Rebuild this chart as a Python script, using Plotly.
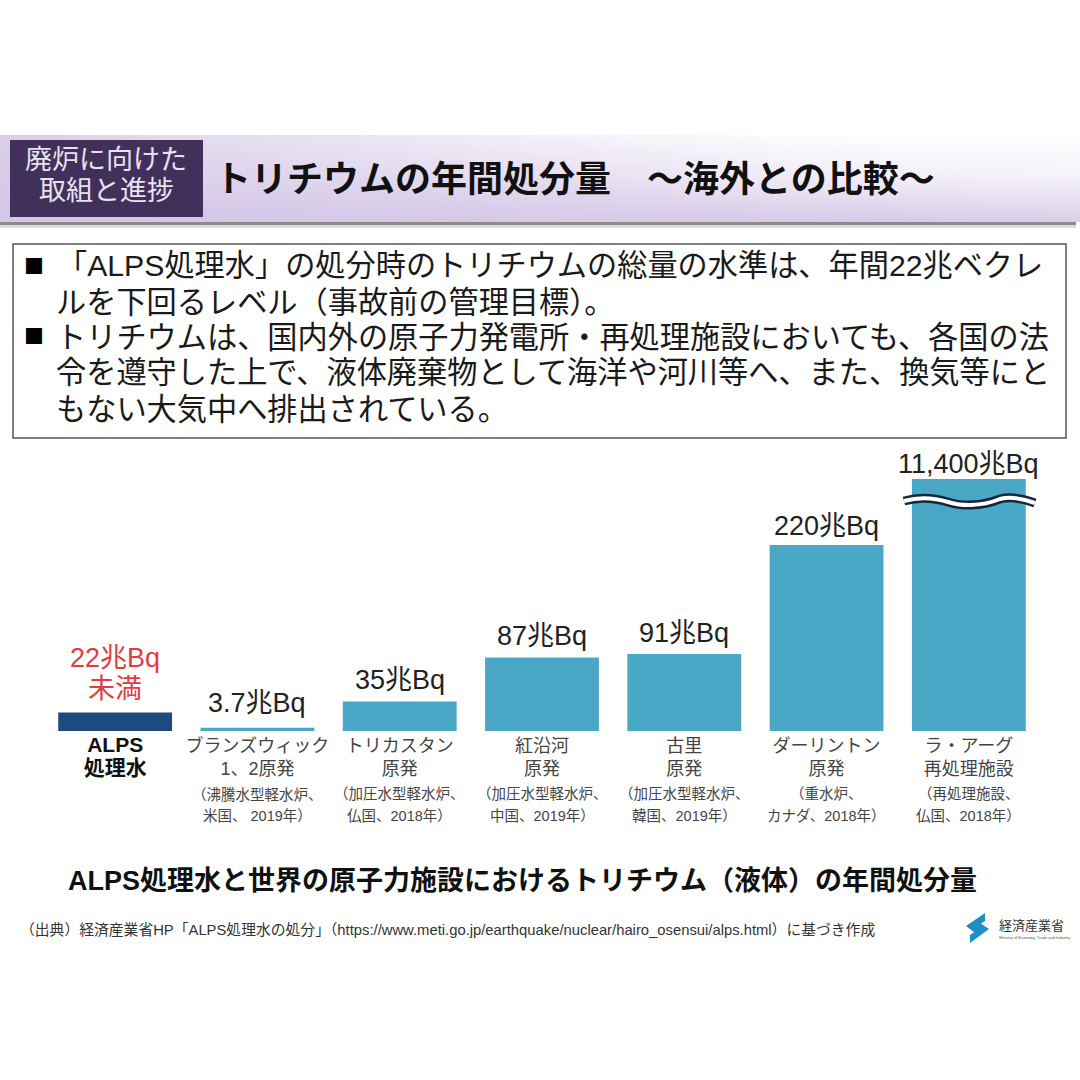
import plotly.graph_objects as go

# 兆Bq per year
plants = ["ALPS", "Brunswick", "Tricastin", "Hongyanhe", "Kori", "Darlington", "La Hague"]
values = [22, 3.7, 35, 87, 91, 220, 11400]
value_labels = ["22兆Bq", "3.7兆Bq", "35兆Bq", "87兆Bq", "91兆Bq", "220兆Bq", "11,400兆Bq"]
tick_labels = [
    '<span style="color:#111111;font-size:21px"><b>ALPS<br>処理水</b></span>',
    "ブランズウィック<br>1、2原発",
    "トリカスタン<br>原発",
    "紅沿河<br>原発",
    "古里<br>原発",
    "ダーリントン<br>原発",
    "ラ・アーグ<br>再処理施設",
]
reactor_notes = ["", "（沸騰水型軽水炉、", "（加圧水型軽水炉、", "（加圧水型軽水炉、", "（加圧水型軽水炉、", "（重水炉、", "（再処理施設、"]
country_notes = ["", "米国、 2019年）", "仏国、2018年）", "中国、2019年）", "韓国、2019年）", "カナダ、2018年）", "仏国、2018年）"]
bar_colors = ["#1f4a80", "#4aa8c6", "#4aa8c6", "#4aa8c6", "#4aa8c6", "#4aa8c6", "#4aa8c6"]

body_lines = [
    "「ALPS処理水」の処分時のトリチウムの総量の水準は、年間22兆ベクレ",
    "ルを下回るレベル（事故前の管理目標）。",
    "トリチウムは、国内外の原子力発電所・再処理施設においても、各国の法",
    "令を遵守した上で、液体廃棄物として海洋や河川等へ、また、換気等にと",
    "もない大気中へ排出されている。",
]
header_shade = [
    [1.00, 1.00, 0.95, 0.95, 0.85],
    [0.92, 0.75, 0.60, 0.35, 0.25],
    [0.85, 0.55, 0.25, 0.05, 0.00],
]

FONT = "Liberation Sans, Noto Sans CJK JP, sans-serif"
SIZE = 1080
Y_TOP = 298  # the last bar is cut off here, hence the wave mark


def px(x):
    return x / SIZE


def py(y):
    return 1 - y / SIZE


def note(x, y, text, size, color="#222222", anchor="left", bold=False):
    return dict(
        x=px(x), y=py(y), xref="paper", yref="paper", text=f"<b>{text}</b>" if bold else text,
        showarrow=False, xanchor=anchor, yanchor="middle",
        font=dict(family=FONT, size=size, color=color),
    )


def box(x0, y0, x1, y1, fill, line=None, width=0):
    return dict(
        type="rect", xref="paper", yref="paper", x0=px(x0), y0=py(y0), x1=px(x1), y1=py(y1),
        fillcolor=fill, line=dict(color=line, width=width) if line else dict(width=0), layer="above",
    )


def wave(color, width):
    pts = [(904, 501), (918, 497), (932, 497), (948, 502), (960, 506), (980, 507), (1000, 499), (1012, 496), (1024, 499), (1035, 503)]
    s = [f"{px(a):.5f},{py(b):.5f}" for a, b in pts]
    path = f"M{s[0]} C{s[1]} {s[2]} {s[3]} C{s[4]} {s[5]} {s[6]} C{s[7]} {s[8]} {s[9]}"
    return dict(type="path", xref="paper", yref="paper", path=path, line=dict(color=color, width=width), layer="above")


def poly(points, color):
    s = " L".join(f"{px(a):.5f},{py(b):.5f}" for a, b in points)
    return dict(type="path", xref="paper", yref="paper", path=f"M{s} Z", fillcolor=color, line=dict(width=0), layer="above")


fig = go.Figure()
fig.add_trace(go.Heatmap(
    z=header_shade, xaxis="x2", yaxis="y2", zsmooth="best", showscale=False, hoverinfo="skip",
    zmin=0, zmax=1, colorscale=[[0, "#ffffff"], [1, "#d3c6e6"]],
))
fig.add_trace(go.Bar(x=plants, y=values, marker=dict(color=bar_colors, line=dict(width=0)), hoverinfo="skip"))

annotations = []
for i, (name, val, label) in enumerate(zip(plants, values, value_labels)):
    red = i == 0
    lift = {0: 37, 1: 8, 5: 2, 6: -2}.get(i, 4)
    annotations.append(dict(
        x=name, y=min(val, Y_TOP), xref="x", yref="y", text=label, showarrow=False, yanchor="bottom",
        yshift=lift, font=dict(family=FONT, size=27, color="#e23b40" if red else "#222222"),
    ))
    if red:
        annotations.append(dict(
            x=name, y=val, xref="x", yref="y", text="未満", showarrow=False, yanchor="bottom",
            yshift=6, font=dict(family=FONT, size=27, color="#e23b40"),
        ))
    annotations.append(dict(x=name, y=py(794), xref="x", yref="paper", text=reactor_notes[i], showarrow=False,
                            yanchor="middle", font=dict(family=FONT, size=14.5, color="#444444")))
    annotations.append(dict(x=name, y=py(816), xref="x", yref="paper", text=country_notes[i], showarrow=False,
                            yanchor="middle", font=dict(family=FONT, size=14.5, color="#444444")))

annotations += [
    note(106, 160, "廃炉に向けた", 27, "#e8e2f0", "center"),
    note(106, 191, "取組と進捗", 27, "#e8e2f0", "center"),
    note(213, 179, "トリチウムの年間処分量　～海外との比較～", 36, "#111111", bold=True),
    note(22, 264, "■", 33, "#000000"),
    note(22, 335, "■", 33, "#000000"),
    note(522, 881, "ALPS処理水と世界の原子力施設におけるトリチウム（液体）の年間処分量", 27, "#111111", "center", True),
    note(18, 930, "（出典）経済産業省HP「ALPS処理水の処分」（https://www.meti.go.jp/earthquake/nuclear/hairo_osensui/alps.html）に基づき作成", 14.8, "#333333"),
    note(997, 925, "経済産業省", 13, "#333333"),
    note(997, 937, "Ministry of Economy, Trade and Industry", 4, "#555555"),
]
for text, x, y in zip(body_lines, [55, 54, 54, 54, 54], [266, 302, 337, 373, 409]):
    annotations.append(note(x, y, text, 30.2, "#1a1a1a"))

shapes = [
    box(0, 222, 1076, 225, "#8b8b8b"),
    box(0, 225, 1076, 228, "#dcdcdc"),
    box(10, 140, 203, 217, "#41305a"),
    box(13, 244, 1066, 438, "rgba(0,0,0,0)", "#555555", 1.5),
    wave("#14283c", 9),
    wave("#ffffff", 4),
    poly([(966, 926), (985, 913), (985, 921), (976, 927), (984, 931), (975, 933)], "#1d8fc4"),
    poly([(989, 929), (970, 943), (970, 935), (979, 929), (972, 925), (980, 923)], "#1d8fc4"),
]

fig.update_layout(
    width=SIZE, height=SIZE, margin=dict(l=0, r=0, t=0, b=0), showlegend=False,
    paper_bgcolor="#ffffff", plot_bgcolor="rgba(0,0,0,0)", bargap=0.2,
    font=dict(family=FONT), annotations=annotations, shapes=shapes,
    xaxis=dict(
        domain=[px(44), px(1040)], range=[-0.5, 6.5], tickmode="array", tickvals=plants, ticktext=tick_labels,
        ticks="", showgrid=False, zeroline=False, showline=False, anchor="y", ticklabelstandoff=2,
        tickfont=dict(family=FONT, size=18, color="#444444"), automargin=False,
    ),
    yaxis=dict(domain=[py(731), py(479)], range=[0, Y_TOP], visible=False, anchor="x"),
    xaxis2=dict(domain=[0, 1], range=[0, 4], visible=False, anchor="y2"),
    yaxis2=dict(domain=[py(222), py(135)], range=[0, 2], visible=False, anchor="x2"),
)

# page default margin would push the figure 8px off
fig.write_html("out.html", config={"displayModeBar": False}, post_script="document.body.style.margin='0';")
